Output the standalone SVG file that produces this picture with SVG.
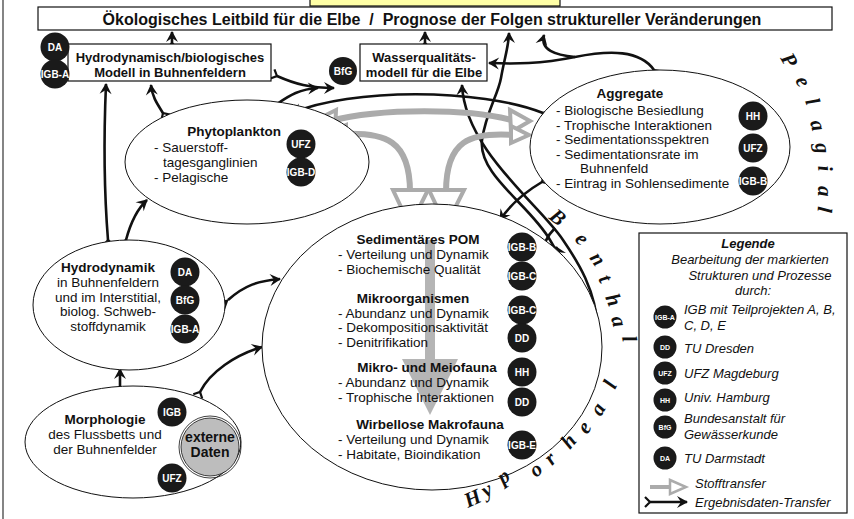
<svg xmlns="http://www.w3.org/2000/svg" width="854" height="519" viewBox="0 0 854 519">
<style>
.t{font-family:"Liberation Sans",Arial,sans-serif;font-size:13.5px;fill:#111}
.b{font-weight:bold}
.lb{font-family:"Liberation Sans",Arial,sans-serif;font-size:13px;font-weight:bold;fill:#111;text-anchor:middle}
.ci{fill:#1a1a1a}
.ct{font-family:"Liberation Sans",Arial,sans-serif;font-size:10px;font-weight:bold;fill:#fff;text-anchor:middle}
.cs{font-family:"Liberation Sans",Arial,sans-serif;font-size:7px;font-weight:bold;fill:#fff;text-anchor:middle}
.el{fill:#fff;stroke:#111;stroke-width:1}
.bx{fill:#fff;stroke:#111;stroke-width:1.2}
.c{fill:none;stroke:#111;stroke-width:2.6;marker-start:url(#fk);marker-end:url(#ah)}
.cn{fill:none;stroke:#111;stroke-width:2.6}
.g{fill:none;stroke:#ababab;stroke-width:6}
.gh{fill:#fff;stroke:#ababab;stroke-width:4;stroke-linejoin:miter}
.sc{font-family:"Liberation Serif",serif;font-style:italic;font-weight:bold;font-size:21px;fill:#111}
.it{font-family:"Liberation Sans",Arial,sans-serif;font-size:13px;font-style:italic;fill:#111}
</style>
<defs>
<marker id="ah" markerUnits="userSpaceOnUse" viewBox="-11 -7 13 14" refX="0" refY="0" markerWidth="13" markerHeight="14" orient="auto">
<path d="M-10,-6 L1,0 L-10,6 L-6,0 z" fill="#111"/>
</marker>
<marker id="fk" markerUnits="userSpaceOnUse" viewBox="-7 -7 10 14" refX="0" refY="0" markerWidth="10" markerHeight="14" orient="auto">
<path d="M-5,-5 Q-1,-1 0,0 Q-1,1 -5,5" fill="none" stroke="#111" stroke-width="2.2"/>
</marker>
</defs>
<rect width="854" height="519" fill="#fff"/>
<line x1="3" y1="0" x2="3" y2="519" stroke="#333" stroke-width="1.2"/>

<g id="banner"><rect x="310" y="-20" width="250" height="26" fill="#ffffa6" stroke="#111" stroke-width="1.2"/></g>

<g id="leitbild">
<rect x="38" y="7" width="794" height="23" class="bx"/>
<text x="432" y="25" class="lb" style="font-size:16px">Ökologisches Leitbild für die Elbe&#160;&#160;/&#160;&#160;Prognose der Folgen struktureller Veränderungen</text>
</g>

<g id="connectors">
<path class="c" d="M172,43 L172,32"/>
<path class="c" d="M425,43 L425,32"/>
<path class="c" d="M108,240 C104,190 104,130 106,84"/>
<path class="c" d="M163,113 C158,105 152,97 151,85"/>
<path class="c" d="M126,240 C130,225 136,210 147,200"/>
<path class="c" d="M120,387 L120,369"/>
<path class="c" d="M200,392 C210,372 235,355 262,347"/>
<path class="cn" d="M228,300 C245,285 258,281 280,279" marker-start="url(#ah)" marker-end="url(#ah)"/>
<path class="c" d="M277,76 C295,84 310,88 334,88"/>
<path class="c" d="M277,104 C290,95 300,89 318,88" marker-end="none"/>
<path class="c" d="M543,113 C480,88 350,88 292,113"/>
<path class="c" d="M542,182 C525,192 510,205 500,220"/>
<path class="c" d="M654,70 C640,50 610,50 575,57 C540,64 515,64 489,63"/>
<path class="cn" d="M575,57 C555,55 540,50 544,35" marker-end="url(#ah)"/>
<path class="c" d="M545,373 C565,360 576,345 576,320 C577,290 565,265 550,240 C530,205 478,175 482,140 C486,112 498,95 501,78 C504,60 509,45 509,33"/>
<path class="c" d="M545,428 C580,400 600,370 598,330 C596,290 578,262 563,240 C540,205 465,150 462,85"/>
<path class="c" d="M547,322 C565,300 568,270 556,247" marker-end="none"/>
<path class="cn" d="M555,228 C545,238 541,250 543,262" marker-end="url(#ah)"/>
</g>

<g id="stoff">
<path class="g" d="M330,121 C380,108 470,108 515,121"/>
<path class="gh" d="M316,120 L336,110 L335,132 z"/>
<path class="gh" d="M530,121 L510,110 L511,132 z"/>
<path class="g" d="M342,134 C385,132 410,140 410,192"/>
<path class="gh" d="M328,133 L346,125 L346,142 z"/>
<path class="gh" d="M393,190 L428,190 L410,226 z"/>
<path class="g" d="M514,135 C470,132 446,140 446,192"/>
<path class="gh" d="M529,135 L511,126 L511,143 z"/>
<path class="gh" d="M429,190 L464,190 L446,226 z"/>
</g>

<g id="hydrobio">
<rect x="68" y="44" width="203" height="37" class="bx"/>
<text x="170" y="62" class="lb">Hydrodynamisch/biologisches</text>
<text x="170" y="77" class="lb">Modell in Buhnenfeldern</text>
<circle cx="55" cy="47" r="14.5" class="ci"/><text x="55" y="51" class="ct">DA</text>
<circle cx="55" cy="74" r="14.5" class="ci"/><text x="55" y="78" class="ct">IGB-A</text>
</g>

<g id="wasser">
<rect x="360" y="44" width="127" height="37" class="bx"/>
<text x="424" y="62" class="lb">Wasserqualitäts-</text>
<text x="424" y="77" class="lb">modell für die Elbe</text>
<circle cx="343" cy="71" r="14" class="ci"/><text x="343" y="75" class="ct">BfG</text>
</g>

<g id="phyto">
<ellipse cx="247" cy="162" rx="122" ry="62" class="el"/>
<text x="234" y="136" class="t b" text-anchor="middle">Phytoplankton</text>
<text x="154" y="152" class="t">- Sauerstoff-</text>
<text x="163" y="167" class="t">tagesganglinien</text>
<text x="154" y="182" class="t">- Pelagische</text>
<circle cx="301" cy="144" r="14.5" class="ci"/><text x="301" y="148" class="ct">UFZ</text>
<circle cx="301" cy="172" r="14.5" class="ci"/><text x="301" y="176" class="ct">IGB-D</text>
</g>

<g id="aggregate">
<ellipse cx="660" cy="147" rx="130" ry="77" class="el"/>
<text x="630" y="98" class="t b" text-anchor="middle">Aggregate</text>
<text x="556" y="115" class="t">- Biologische Besiedlung</text>
<text x="556" y="129.5" class="t">- Trophische Interaktionen</text>
<text x="556" y="144" class="t">- Sedimentationsspektren</text>
<text x="556" y="158.5" class="t">- Sedimentationsrate im</text>
<text x="580" y="173" class="t">Buhnenfeld</text>
<text x="556" y="188" class="t">- Eintrag in Sohlensedimente</text>
<circle cx="753" cy="116" r="14.5" class="ci"/><text x="753" y="120" class="ct">HH</text>
<circle cx="753" cy="148" r="14.5" class="ci"/><text x="753" y="152" class="ct">UFZ</text>
<circle cx="753" cy="181" r="14.5" class="ci"/><text x="753" y="185" class="ct">IGB-B</text>
</g>

<g id="hydrodynamik">
<ellipse cx="129" cy="305" rx="96" ry="65" class="el"/>
<text x="108" y="272" class="t b" text-anchor="middle">Hydrodynamik</text>
<text x="108" y="287" class="t" text-anchor="middle">in Buhnenfeldern</text>
<text x="108" y="302" class="t" text-anchor="middle">und im Interstitial,</text>
<text x="108" y="316" class="t" text-anchor="middle">biolog. Schweb-</text>
<text x="108" y="331" class="t" text-anchor="middle">stoffdynamik</text>
<circle cx="185" cy="272" r="14.5" class="ci"/><text x="185" y="276" class="ct">DA</text>
<circle cx="185" cy="300" r="14.5" class="ci"/><text x="185" y="304" class="ct">BfG</text>
<circle cx="185" cy="329" r="14.5" class="ci"/><text x="185" y="333" class="ct">IGB-A</text>
</g>

<g id="morphologie">
<ellipse cx="133" cy="442" rx="108" ry="56" class="el"/>
<text x="105" y="424" class="t b" text-anchor="middle">Morphologie</text>
<text x="105" y="439" class="t" text-anchor="middle">des Flussbetts und</text>
<text x="105" y="454" class="t" text-anchor="middle">der Buhnenfelder</text>
<circle cx="172" cy="412" r="14.5" class="ci"/><text x="172" y="416" class="ct">IGB</text>
<circle cx="172" cy="478" r="14.5" class="ci"/><text x="172" y="482" class="ct">UFZ</text>
<circle cx="210" cy="447" r="31" fill="none" stroke="#111" stroke-width="0.8"/>
<circle cx="210" cy="447" r="29" fill="#bdbdbd" stroke="#111" stroke-width="0.8"/>
<text x="210" y="442" class="t b" text-anchor="middle" style="font-size:14px">externe</text>
<text x="210" y="457" class="t b" text-anchor="middle" style="font-size:14px">Daten</text>
</g>

<g id="pom">
<ellipse cx="432" cy="347" rx="170" ry="143" class="el"/>
<rect x="425" y="240" width="10" height="122" fill="#b5b5b5"/>
<path d="M402,359 L458,359 L430,415 z" fill="#b5b5b5"/>
<text x="418" y="244" class="t b" text-anchor="middle">Sedimentäres POM</text>
<text x="338" y="259" class="t">- Verteilung und Dynamik</text>
<text x="338" y="274" class="t">- Biochemische Qualität</text>
<text x="413" y="303" class="t b" text-anchor="middle">Mikroorganismen</text>
<text x="338" y="317.5" class="t">- Abundanz und Dynamik</text>
<text x="338" y="332" class="t">- Dekompositionsaktivität</text>
<text x="338" y="347" class="t">- Denitrifikation</text>
<text x="427" y="372" class="t b" text-anchor="middle">Mikro- und Meiofauna</text>
<text x="338" y="387" class="t">- Abundanz und Dynamik</text>
<text x="338" y="401.5" class="t">- Trophische Interaktionen</text>
<text x="430" y="429" class="t b" text-anchor="middle">Wirbellose Makrofauna</text>
<text x="338" y="444" class="t">- Verteilung und Dynamik</text>
<text x="338" y="459" class="t">- Habitate, Bioindikation</text>
<circle cx="522" cy="247" r="14.5" class="ci"/><text x="522" y="251" class="ct">IGB-B</text>
<circle cx="522" cy="276" r="14.5" class="ci"/><text x="522" y="280" class="ct">IGB-C</text>
<circle cx="522" cy="310" r="14.5" class="ci"/><text x="522" y="314" class="ct">IGB-C</text>
<circle cx="522" cy="338" r="14.5" class="ci"/><text x="522" y="342" class="ct">DD</text>
<circle cx="522" cy="372" r="14.5" class="ci"/><text x="522" y="376" class="ct">HH</text>
<circle cx="522" cy="402" r="14.5" class="ci"/><text x="522" y="406" class="ct">DD</text>
<circle cx="522" cy="445" r="14.5" class="ci"/><text x="522" y="449" class="ct">IGB-E</text>
</g>

<g id="zones">
<text class="sc" transform="translate(780,58) rotate(60)">P</text>
<text class="sc" transform="translate(795,80) rotate(65)">e</text>
<text class="sc" transform="translate(805,101) rotate(70)">l</text>
<text class="sc" transform="translate(810,122) rotate(75)">a</text>
<text class="sc" transform="translate(815,144) rotate(80)">g</text>
<text class="sc" transform="translate(818,166) rotate(85)">i</text>
<text class="sc" transform="translate(818,186) rotate(90)">a</text>
<text class="sc" transform="translate(818,206) rotate(95)">l</text>
<text class="sc" transform="translate(548,218) rotate(40)">B</text>
<text class="sc" transform="translate(574,240) rotate(45)">e</text>
<text class="sc" transform="translate(589,258) rotate(55)">n</text>
<text class="sc" transform="translate(598,279) rotate(62)">t</text>
<text class="sc" transform="translate(605,297) rotate(68)">h</text>
<text class="sc" transform="translate(611,318) rotate(75)">a</text>
<text class="sc" transform="translate(622,337) rotate(80)">l</text>
<text class="sc" transform="translate(468,508) rotate(-25)">H</text>
<text class="sc" transform="translate(486,498) rotate(-30)">y</text>
<text class="sc" transform="translate(503,485) rotate(-35)">p</text>
<text class="sc" transform="translate(536,478) rotate(-40)">o</text>
<text class="sc" transform="translate(552,466) rotate(-45)">r</text>
<text class="sc" transform="translate(570,450) rotate(-50)">h</text>
<text class="sc" transform="translate(587,435) rotate(-55)">e</text>
<text class="sc" transform="translate(601,417) rotate(-60)">a</text>
<text class="sc" transform="translate(615,390) rotate(-65)">l</text>
</g>

<g id="legend">
<rect x="639" y="233" width="208" height="280" class="bx"/>
<text x="748" y="248" class="it b" text-anchor="middle">Legende</text>
<text x="750" y="264" class="it" text-anchor="middle">Bearbeitung der markierten</text>
<text x="760" y="280" class="it" text-anchor="middle">Strukturen und Prozesse</text>
<text x="753" y="295" class="it" text-anchor="middle">durch:</text>
<circle cx="665" cy="317" r="11.5" class="ci"/><text x="665" y="319.5" class="cs">IGB-A</text>
<text x="684" y="314" class="it">IGB mit Teilprojekten A, B,</text>
<text x="684" y="330" class="it">C, D, E</text>
<circle cx="665" cy="347" r="11.5" class="ci"/><text x="665" y="349.5" class="cs">DD</text>
<text x="684" y="353" class="it">TU Dresden</text>
<circle cx="665" cy="373" r="11.5" class="ci"/><text x="665" y="375.5" class="cs">UFZ</text>
<text x="684" y="378" class="it">UFZ Magdeburg</text>
<circle cx="665" cy="400" r="11.5" class="ci"/><text x="665" y="402.5" class="cs">HH</text>
<text x="684" y="402" class="it">Univ. Hamburg</text>
<circle cx="665" cy="427" r="11.5" class="ci"/><text x="665" y="429.5" class="cs">BfG</text>
<text x="684" y="423" class="it">Bundesanstalt für</text>
<text x="684" y="439" class="it">Gewässerkunde</text>
<circle cx="665" cy="458" r="11.5" class="ci"/><text x="665" y="460.5" class="cs">DA</text>
<text x="684" y="463" class="it">TU Darmstadt</text>
<line x1="650" y1="487" x2="672" y2="487" class="g" style="stroke-width:4"/>
<path d="M670,480 L686,487 L670,494 z" class="gh" style="stroke-width:2.5"/>
<text x="695" y="488" class="it">Stofftransfer</text>
<path class="c" d="M650,502 L687,502"/>
<text x="695" y="507" class="it">Ergebnisdaten-Transfer</text>
</g>
</svg>
